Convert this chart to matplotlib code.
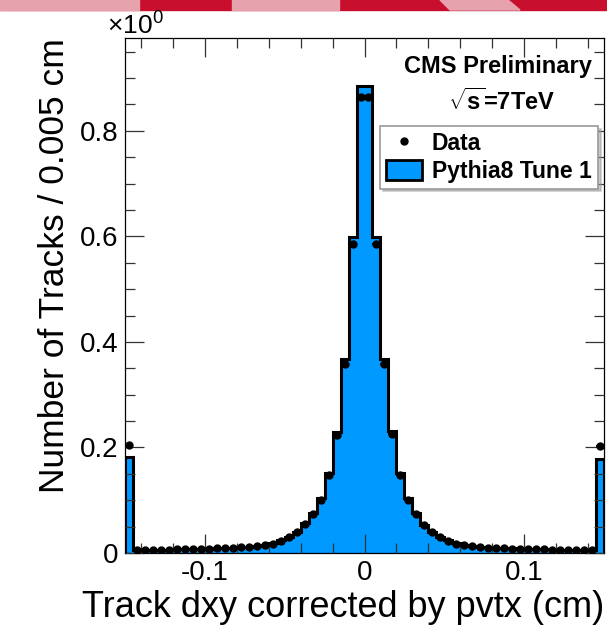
import numpy as np
import matplotlib
matplotlib.use("Agg")
import matplotlib.pyplot as plt
from matplotlib.lines import Line2D
from matplotlib.patches import Patch, Rectangle, Polygon

###############################################################
#                       data
###############################################################
x_lo, x_hi, bin_w = -0.15, 0.15, 0.005

# Pythia8 Tune 1, left to right (first/last bins hold the over/underflow)
mc = [0.181, 0.005, 0.005, 0.006, 0.006, 0.006, 0.007, 0.007, 0.007, 0.008,
      0.008, 0.009, 0.009, 0.010, 0.011, 0.012, 0.014, 0.016, 0.019, 0.024,
      0.031, 0.040, 0.057, 0.076, 0.104, 0.151, 0.229, 0.368, 0.598, 0.885,
      0.885, 0.598, 0.368, 0.231, 0.151, 0.104, 0.075, 0.054, 0.040, 0.031,
      0.024, 0.019, 0.016, 0.014, 0.012, 0.011, 0.010, 0.009, 0.009, 0.008,
      0.008, 0.007, 0.007, 0.007, 0.006, 0.006, 0.006, 0.005, 0.005, 0.178]

data = [0.205, 0.005, 0.005, 0.006, 0.006, 0.006, 0.007, 0.007, 0.007, 0.008,
        0.008, 0.009, 0.009, 0.010, 0.011, 0.012, 0.013, 0.015, 0.018, 0.023,
        0.030, 0.039, 0.055, 0.074, 0.101, 0.147, 0.224, 0.358, 0.585, 0.865,
        0.865, 0.585, 0.358, 0.225, 0.147, 0.101, 0.073, 0.053, 0.039, 0.030,
        0.023, 0.018, 0.015, 0.013, 0.011, 0.010, 0.009, 0.009, 0.008, 0.008,
        0.007, 0.007, 0.007, 0.006, 0.006, 0.006, 0.005, 0.005, 0.005, 0.203]

x_ticks = [-0.1, 0, 0.1]
x_ticklabels = ["-0.1", "0", "0.1"]
y_ticks = [0, 0.2, 0.4, 0.6, 0.8]
y_ticklabels = ["0", "0.2", "0.4", "0.6", "0.8"]

edges = np.arange(len(mc) + 1) * bin_w + x_lo
centers = 0.5 * (edges[:-1] + edges[1:])

###############################################################
#                       style
###############################################################
plt.rcParams["font.family"] = ["Liberation Sans", "DejaVu Sans"]
plt.rcParams["mathtext.fontset"] = "custom"
plt.rcParams["mathtext.rm"] = "Liberation Sans"
plt.rcParams["mathtext.bf"] = "Liberation Sans:bold"

blue = "#0099ff"

fig = plt.figure(figsize=(6.07, 6.29), dpi=100)

# slide banner on top
pink, red = "#e6a3ae", "#c8102e"
bh = 10 / 629
fig.patches.append(Rectangle((0, 1 - bh), 1, bh, transform=fig.transFigure, color=red, zorder=0))
for a, b in [(0, 139), (232, 339)]:
    fig.patches.append(Rectangle((a / 607, 1 - bh), (b - a) / 607, bh,
                                 transform=fig.transFigure, color=pink, zorder=1))
fig.patches.append(Polygon([(440 / 607, 1), (508 / 607, 1), (520 / 607, 1 - bh), (450 / 607, 1 - bh)],
                           closed=True, transform=fig.transFigure, color=pink, zorder=1))

ax = fig.add_axes([125 / 607, 76 / 629, 479 / 607, 515 / 629])
ax.set_axisbelow(False)

###############################################################
#                       histogram + data
###############################################################
ax.stairs(mc, edges, fill=True, color=blue, zorder=1)
ax.stairs(mc, edges, color="black", linewidth=2.2, baseline=0, zorder=2)
ax.errorbar(centers, data, xerr=bin_w / 2, yerr=0.002, fmt="o", color="black",
            ms=5, elinewidth=1.2, capsize=0, zorder=3)

ax.set_xlim(x_lo, x_hi)
ax.set_ylim(0, 0.976)

ax.set_xticks(x_ticks)
ax.set_xticklabels(x_ticklabels)
ax.set_yticks(y_ticks)
ax.set_yticklabels(y_ticklabels)
ax.set_xticks(np.arange(-0.14, 0.141, 0.02), minor=True)
ax.set_yticks(np.arange(0, 0.96, 0.05), minor=True)
ax.tick_params(which="both", direction="in", top=True, right=True, width=0.9, color="#333333")
ax.tick_params(which="major", length=14, labelsize=20, pad=5)
ax.tick_params(which="minor", length=7)
for s in ax.spines.values():
    s.set_linewidth(0.9)

ax.set_xlabel("Track dxy corrected by pvtx (cm)", fontsize=26, loc="right", labelpad=3)
ax.set_ylabel("Number of Tracks / 0.005 cm", fontsize=25.5, loc="top", labelpad=6)

fig.text(107 / 607, 1 - 34 / 629, r"$\times$10$^{0}$", fontsize=19, ha="left", va="baseline")

# labels
fig.text(592 / 607, 1 - 66 / 629, "CMS Preliminary", fontsize=17, fontweight="bold",
         ha="right", va="center")
fig.text(502 / 607, 1 - 102 / 629, r"$\sqrt{\mathbf{s}}$=7TeV", fontsize=17, fontweight="bold",
         ha="center", va="center")

handles = [Line2D([], [], marker="o", color="black", linestyle="none", ms=5),
           Patch(facecolor=blue, edgecolor="black", linewidth=2)]
leg = fig.legend(handles, ["Data", "Pythia8 Tune 1"], loc="center left",
                 bbox_to_anchor=(380 / 607, 1 - 190 / 629, 218 / 607, 65 / 629), mode="expand",
                 borderaxespad=0, prop={"weight": "bold", "size": 16.5}, fancybox=False,
                 shadow={"color": "0.6"}, edgecolor="0.6", framealpha=1,
                 handlelength=1.6, handleheight=1.0, handletextpad=0.4,
                 borderpad=0.25, labelspacing=0.2)
leg.get_frame().set_linewidth(1.2)

fig.savefig("out.png", dpi=100)
